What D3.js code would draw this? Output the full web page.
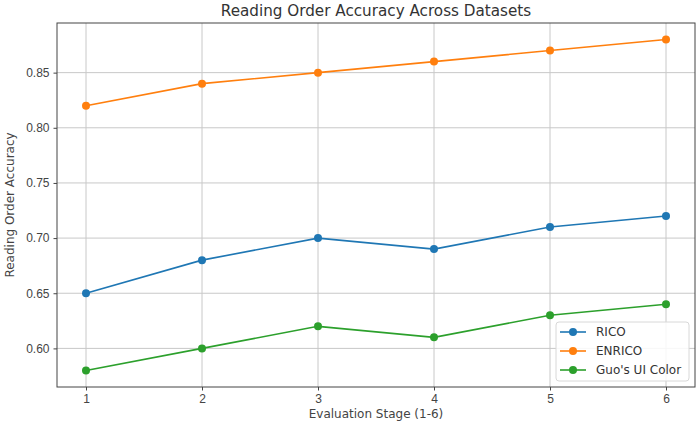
<!DOCTYPE html>
<html>
<head>
<meta charset="utf-8">
<script src="https://cdn.jsdelivr.net/npm/d3@7"></script>
<style>
  body { margin: 0; background: #fff; }
  svg { font-family: "DejaVu Sans", sans-serif; }
  .tick text { font-size: 12px; fill: #444; }
  .tick line { stroke: #444; }
  .grid line { stroke: #c8c8c8; stroke-width: 1; }
</style>
</head>
<body>
<svg width="700" height="428"></svg>
<script>
// chart data
const stages = [1, 2, 3, 4, 5, 6];
const rico = [0.65, 0.68, 0.70, 0.69, 0.71, 0.72];
const enrico = [0.82, 0.84, 0.85, 0.86, 0.87, 0.88];
const guo = [0.58, 0.60, 0.62, 0.61, 0.63, 0.64];
const yTicks = [0.60, 0.65, 0.70, 0.75, 0.80, 0.85];

const seriesNames = ["RICO", "ENRICO", "Guo's UI Color"];
const seriesColors = ["#1f77b4", "#ff7f0e", "#2ca02c"];
const seriesValues = [rico, enrico, guo];

const svg = d3.select("svg");
const mLeft = 57, mRight = 695, mTop = 23, mBottom = 387;

const xScale = d3.scaleLinear()
  .domain([0.75, 6.25])
  .range([mLeft, mRight]);

const yScale = d3.scaleLinear()
  .domain([0.565, 0.895])
  .range([mBottom, mTop]);

// grid
svg.append("g")
  .attr("class", "grid")
  .selectAll("line")
  .data(stages)
  .enter()
  .append("line")
  .attr("x1", d => xScale(d))
  .attr("x2", d => xScale(d))
  .attr("y1", mTop)
  .attr("y2", mBottom);

svg.append("g")
  .attr("class", "grid")
  .selectAll("line")
  .data(yTicks)
  .enter()
  .append("line")
  .attr("x1", mLeft)
  .attr("x2", mRight)
  .attr("y1", d => yScale(d))
  .attr("y2", d => yScale(d));

// axes
const xAxis = d3.axisBottom(xScale)
  .tickValues(stages)
  .tickFormat(d3.format("d"))
  .tickSize(3.5)
  .tickPadding(4);

svg.append("g")
  .attr("transform", `translate(0, ${mBottom})`)
  .call(xAxis)
  .call(g => g.select(".domain").remove());

const yAxis = d3.axisLeft(yScale)
  .tickValues(yTicks)
  .tickFormat(d3.format(".2f"))
  .tickSize(3.5)
  .tickPadding(4);

svg.append("g")
  .attr("transform", `translate(${mLeft}, 0)`)
  .call(yAxis)
  .call(g => g.select(".domain").remove());

// frame
svg.append("rect")
  .attr("x", mLeft)
  .attr("y", mTop)
  .attr("width", mRight - mLeft)
  .attr("height", mBottom - mTop)
  .attr("fill", "none")
  .attr("stroke", "#444")
  .attr("stroke-width", 1);

// lines + markers
const line = d3.line()
  .x((d, i) => xScale(stages[i]))
  .y(d => yScale(d));

seriesValues.forEach((vals, k) => {
  svg.append("path")
    .datum(vals)
    .attr("d", line)
    .attr("fill", "none")
    .attr("stroke", seriesColors[k])
    .attr("stroke-width", 1.6);

  svg.selectAll(null)
    .data(vals)
    .enter()
    .append("circle")
    .attr("cx", (d, i) => xScale(stages[i]))
    .attr("cy", d => yScale(d))
    .attr("r", 4)
    .attr("fill", seriesColors[k]);
});

// title and labels
svg.append("text")
  .attr("x", (mLeft + mRight) / 2)
  .attr("y", 16)
  .attr("text-anchor", "middle")
  .attr("font-size", "15.2px")
  .attr("fill", "#333")
  .text("Reading Order Accuracy Across Datasets");

svg.append("text")
  .attr("x", (mLeft + mRight) / 2)
  .attr("y", 418)
  .attr("text-anchor", "middle")
  .attr("font-size", "12px")
  .attr("fill", "#444")
  .text("Evaluation Stage (1-6)");

svg.append("text")
  .attr("transform", "rotate(-90)")
  .attr("x", -(mTop + mBottom) / 2)
  .attr("y", 14)
  .attr("text-anchor", "middle")
  .attr("font-size", "12px")
  .attr("fill", "#444")
  .text("Reading Order Accuracy");

// legend
const legend = svg.append("g").attr("transform", "translate(556, 322)");

legend.append("rect")
  .attr("width", 133)
  .attr("height", 59)
  .attr("rx", 3)
  .attr("fill", "#fff")
  .attr("fill-opacity", 0.85)
  .attr("stroke", "#d8d8d8");

seriesNames.forEach((name, k) => {
  const y = 10 + k * 19;
  legend.append("line")
    .attr("x1", 4).attr("x2", 30)
    .attr("y1", y).attr("y2", y)
    .attr("stroke", seriesColors[k])
    .attr("stroke-width", 1.6);
  legend.append("circle")
    .attr("cx", 17).attr("cy", y).attr("r", 4)
    .attr("fill", seriesColors[k]);
  legend.append("text")
    .attr("x", 40)
    .attr("y", y + 4)
    .attr("font-size", "12px")
    .attr("fill", "#333")
    .text(name);
});
</script>
</body>
</html>
